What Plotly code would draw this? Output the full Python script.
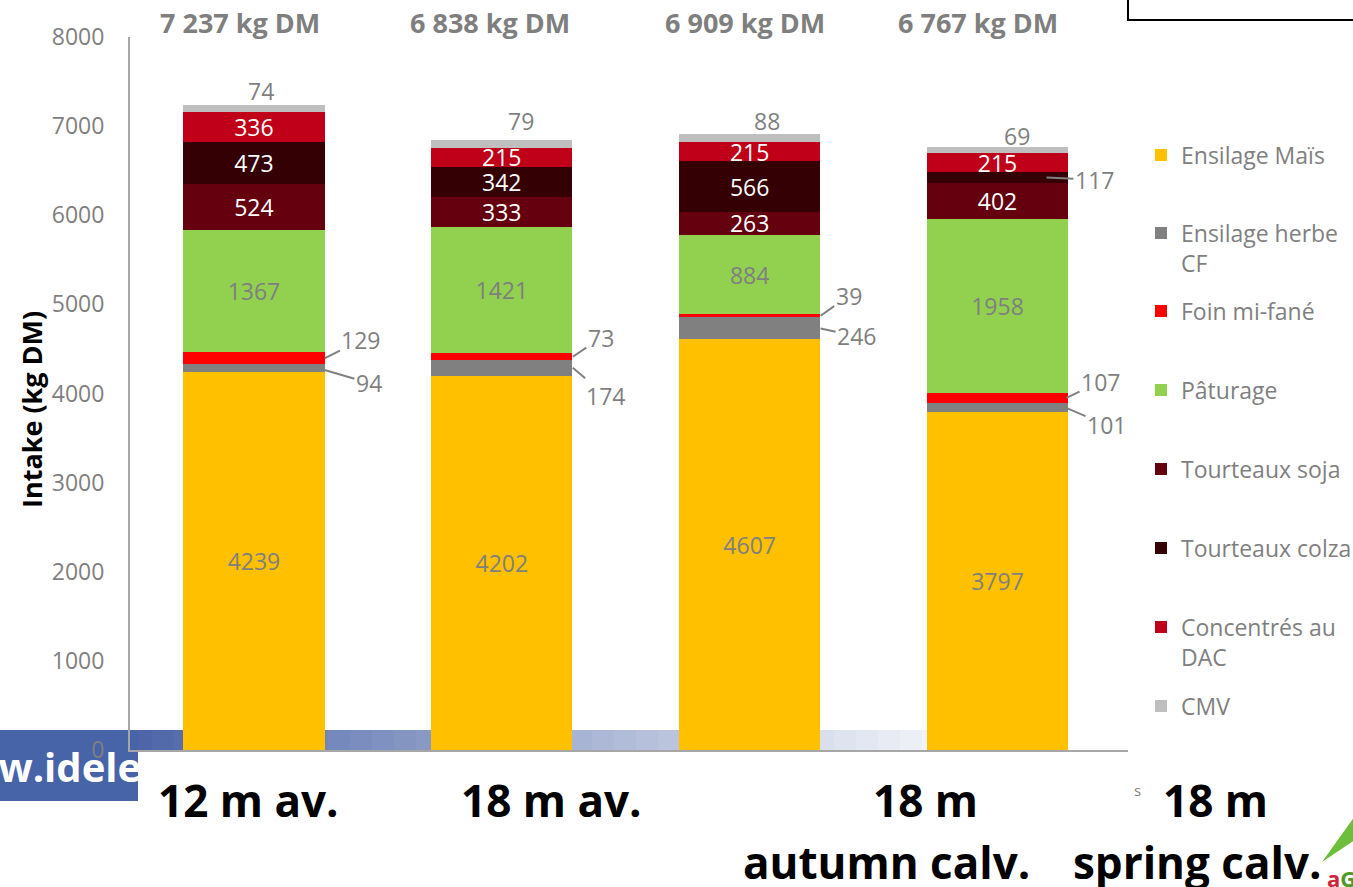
import plotly.graph_objects as go

# ---- data -------------------------------------------------------------
categories = ["12 m av.", "18 m av.", "18 m<br>autumn calv.", "18 m<br>spring calv."]
totals = ["7 237 kg DM", "6 838 kg DM", "6 909 kg DM", "6 767 kg DM"]

ensilage_mais = [4239, 4202, 4607, 3797]
ensilage_herbe = [94, 174, 246, 101]
foin_mi_fane = [129, 73, 39, 107]
paturage = [1367, 1421, 884, 1958]
tourteaux_soja = [524, 333, 263, 402]
tourteaux_colza = [473, 342, 566, 117]
concentres_dac = [336, 215, 215, 215]
cmv = [74, 79, 88, 69]

y_ticks = [0, 1000, 2000, 3000, 4000, 5000, 6000, 7000, 8000]

# ---- styling ----------------------------------------------------------
FONT = "Open Sans"
GREY = "#7F7F7F"
W, H = 1353, 887
X0, X1, Y0, Y1 = 130, 1128, 750, 37          # plot area in pixels


def px(x):
    return (x - X0) / (X1 - X0)


def py(y):
    return (Y0 - y) / (Y0 - Y1)


series = [
    ("Ensilage Maïs", ensilage_mais, "#FFC000", GREY, "all"),
    ("Ensilage herbe<br>CF", ensilage_herbe, "#808080", None, "none"),
    ("Foin mi-fané", foin_mi_fane, "#FF0000", None, "none"),
    ("Pâturage", paturage, "#92D050", GREY, "all"),
    ("Tourteaux soja", tourteaux_soja, "#65000F", "white", "all"),
    ("Tourteaux colza", tourteaux_colza, "#340004", "white", "first3"),
    ("Concentrés au<br>DAC", concentres_dac, "#BF0018", "white", "all"),
    ("CMV", cmv, "#BFBFBF", GREY, "none"),
]

legend_rows = [155, 233, 311, 390, 469, 548, 627, 706]   # first-line centre (px)

fig = go.Figure()
for i, (name, vals, color, tcolor, mode) in enumerate(series):
    lg = "legend" if i == 0 else f"legend{i + 1}"
    if mode == "all":
        kw = dict(text=[str(v) for v in vals], textposition="inside")
    elif mode == "first3":
        kw = dict(text=[str(v) for v in vals[:3]] + [""], textposition="inside")
    else:
        kw = dict(textposition="none")
    fig.add_trace(go.Bar(
        x=categories, y=vals, name=name, marker=dict(color=color, line=dict(width=0)),
        textfont=dict(family=FONT, size=23, color=tcolor or GREY),
        insidetextanchor="middle", textangle=0, constraintext="none",
        cliponaxis=False, legend=lg, hoverinfo="skip", **kw,
    ))

# ---- legends: one box per entry so each row can sit at its own height --
layout_legends = {}
for i, (name, *_rest) in enumerate(series):
    key = "legend" if i == 0 else f"legend{i + 1}"
    two_lines = "<br>" in name
    ycen = legend_rows[i] + (15 if two_lines else 0)
    layout_legends[key] = dict(
        x=px(1141), xanchor="left", y=py(ycen), yanchor="middle",
        valign="top", bgcolor="rgba(0,0,0,0)", borderwidth=0,
        font=dict(family=FONT, size=23, color=GREY), itemwidth=30,
    )

# ---- value labels ------------------------------------------------------
stack_top = [sum(v) for v in zip(ensilage_mais, ensilage_herbe, foin_mi_fane, paturage,
                                 tourteaux_soja, tourteaux_colza, concentres_dac, cmv)]
cum_herbe = [m + h / 2 for m, h in zip(ensilage_mais, ensilage_herbe)]
cum_foin = [m + h + f / 2 for m, h, f in zip(ensilage_mais, ensilage_herbe, foin_mi_fane)]
cum_colza = [m + h + f + p + s + c / 2 for m, h, f, p, s, c in
             zip(ensilage_mais, ensilage_herbe, foin_mi_fane, paturage, tourteaux_soja, tourteaux_colza)]

foin_offsets = [(71, 36, -18), (71, 28, -19), (71, 28, -20), (69, 34, -16)]
herbe_offsets = [(64, 51, 15), (71, 33, 28), (71, 36, 8), (67, 42, 18)]
cmv_shift = [(7, 14), (19, 19), (17, 13), (19, 11)]

annotations = []
for i, cat in enumerate(categories):
    for vals, ys, off in ((foin_mi_fane, cum_foin, foin_offsets[i]),
                          (ensilage_herbe, cum_herbe, herbe_offsets[i])):
        xs, ax, ay = off
        annotations.append(dict(
            x=cat, y=ys[i], xref="x", yref="y", xshift=xs, text=str(vals[i]),
            showarrow=True, arrowhead=0, arrowwidth=2, arrowcolor="#808080",
            ax=ax, ay=ay, standoff=0, font=dict(family=FONT, size=23, color=GREY),
        ))
    # CMV value sitting on top of the stack
    dx, dy = cmv_shift[i]
    annotations.append(dict(
        x=cat, y=stack_top[i], xref="x", yref="y", xshift=dx, yshift=dy,
        text=str(cmv[i]), showarrow=False, xanchor="center", yanchor="middle",
        font=dict(family=FONT, size=23, color=GREY),
    ))
annotations.append(dict(
    x=categories[3], y=cum_colza[3], xref="x", yref="y", xshift=49, text=str(tourteaux_colza[3]),
    showarrow=True, arrowhead=0, arrowwidth=2, arrowcolor="#808080",
    ax=48, ay=2, standoff=0, font=dict(family=FONT, size=23, color=GREY),
))


def paper_text(x, y, text, size, color, xanchor="center", angle=0):
    return dict(x=px(x), y=py(y), xref="paper", yref="paper", text=text,
                xanchor=xanchor, yanchor="middle", showarrow=False, textangle=angle,
                font=dict(family=FONT, size=size, color=color))


# axis title
annotations.append(paper_text(31, 410, "<b>Intake (kg DM)</b>", 27, "black", angle=-90))

# totals above each bar
total_x = [240, 490, 745, 978]
for t, xx in zip(totals, total_x):
    annotations.append(paper_text(xx, 22, f"<b>{t}</b>", 27, GREY))

# category captions below the axis
cap_pos = [[(248, 800)], [(551, 800)], [(925, 800), (886, 862)], [(1215, 800), (1197, 862)]]
for cat, pos in zip(categories, cap_pos):
    for line, (xx, yy) in zip(cat.split("<br>"), pos):
        annotations.append(paper_text(xx, yy, f"<b>{line}</b>", 44, "black"))

# website banner text, small stray character and logo letters
annotations += [
    paper_text(143, 766, "<b>www.idele</b>", 40, "white", xanchor="right"),
    paper_text(1137, 790, "s", 15, GREY),
    paper_text(1325, 878,
               "<b><span style='color:#D2233C'>a</span><span style='color:#4C9A2A'>G</span></b>",
               22, GREY, xanchor="left"),
]

# ---- decorative shapes --------------------------------------------------
shapes = []
# fading blue strip behind the base of the bars
n = 40
x_start, x_end = 130, 1010
c0, c1 = (78, 102, 168), (255, 255, 255)
for k in range(n):
    t = k / (n - 1)
    col = tuple(int(a + (b - a) * t) for a, b in zip(c0, c1))
    xa = x_start + (x_end - x_start) * k / n
    xb = x_start + (x_end - x_start) * (k + 1) / n + 1
    shapes.append(dict(type="rect", xref="paper", yref="paper", layer="below",
                       x0=px(xa), x1=px(xb), y0=py(750), y1=py(730),
                       fillcolor=f"rgb{col}", line=dict(width=0)))
# website banner block
shapes.append(dict(type="rect", xref="paper", yref="paper", layer="below",
                   x0=px(-5), x1=px(138), y0=py(801), y1=py(730),
                   fillcolor="#4764A8", line=dict(width=0)))
# box in the top-right corner
shapes.append(dict(type="rect", xref="paper", yref="paper",
                   x0=px(1128), x1=px(1370), y0=py(20), y1=py(-10),
                   fillcolor="white", line=dict(color="black", width=2)))
# logo leaf
shapes.append(dict(type="path", xref="paper", yref="paper",
                   path=f"M{px(1322)},{py(862)} L{px(1355)},{py(816)} L{px(1355)},{py(840)} Z",
                   fillcolor="#6DBE3A", line=dict(width=0)))

fig.update_layout(
    width=W, height=H, barmode="stack", bargap=0.43,
    margin=dict(l=X0, r=W - X1, t=Y1, b=H - Y0, pad=0, autoexpand=False),
    paper_bgcolor="white", plot_bgcolor="rgba(0,0,0,0)",
    font=dict(family=FONT, color=GREY),
    xaxis=dict(showticklabels=False, showgrid=False, zeroline=False,
               showline=True, linecolor="#A6A6A6", linewidth=2, ticks=""),
    yaxis=dict(range=[0, 8000], tickvals=y_ticks, showgrid=False, zeroline=False,
               showline=True, linecolor="#A6A6A6", linewidth=2, ticks="",
               ticklabelstandoff=19,
               tickfont=dict(family=FONT, size=23, color=GREY)),
    annotations=annotations, shapes=shapes, showlegend=True,
    **layout_legends,
)

fig.write_html("out.html")
